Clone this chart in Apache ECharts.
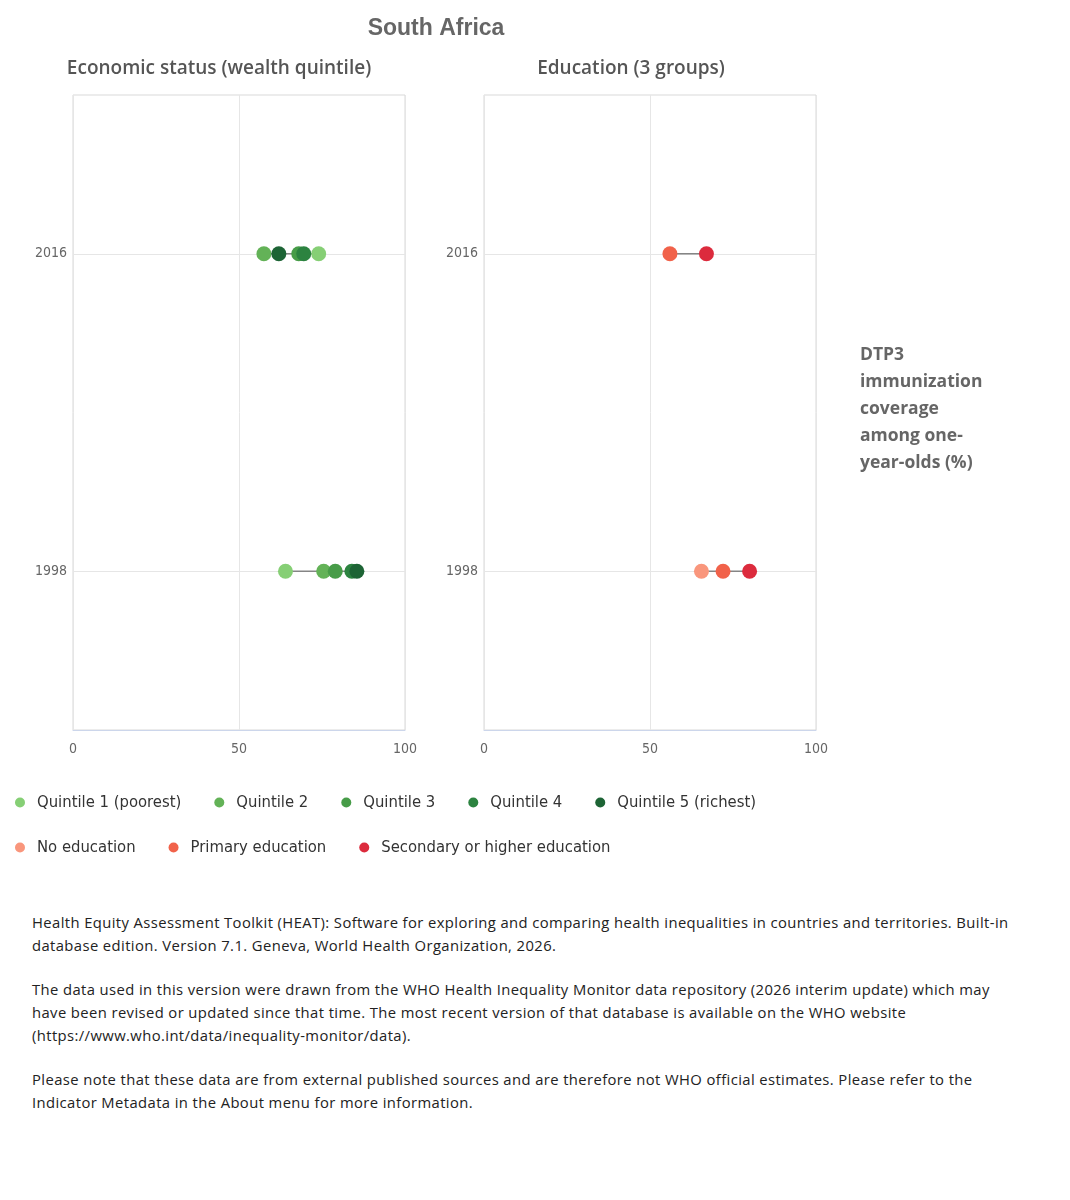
<!DOCTYPE html>
<html>
<head>
<meta charset="utf-8">
<script src="https://cdn.jsdelivr.net/npm/echarts@6/dist/echarts.min.js"></script>
<style>
  body { margin: 0; background: #fff; }
  #chart { width: 1070px; height: 880px; }
  #notes {
    position: absolute; left: 32px; top: 911px; width: 990px;
    font-family: "Open Sans", "Noto Sans", sans-serif; font-size: 14.8px;
    letter-spacing: 0.4px; line-height: 23px; color: #222;
  }
  #notes p { margin: 0 0 21px 0; }
</style>
</head>
<body>
<div id="chart"></div>
<div id="notes">
  <p>Health Equity Assessment Toolkit (HEAT): Software for exploring and comparing health inequalities in countries and territories. Built-in database edition. Version 7.1. Geneva, World Health Organization, 2026.</p>
  <p>The data used in this version were drawn from the WHO Health Inequality Monitor data repository (2026 interim update) which may have been revised or updated since that time. The most recent version of that database is available on the WHO website (https://www.who.int/data/inequality-monitor/data).</p>
  <p>Please note that these data are from external published sources and are therefore not WHO official estimates. Please refer to the Indicator Metadata in the About menu for more information.</p>
</div>
<script>
// years on the vertical axis (bottom to top)
var years = ['1998', '2016'];
var xTicks = [0, 50, 100];

// wealth quintiles, values per year [1998, 2016]
var quintileNames = ['Quintile 1 (poorest)', 'Quintile 2', 'Quintile 3', 'Quintile 4', 'Quintile 5 (richest)'];
var quintileColors = ['#86cf75', '#63b257', '#479c48', '#2c8340', '#1d6435'];
var quintile1 = [64, 74];
var quintile2 = [75.5, 57.5];
var quintile3 = [79, 68];
var quintile4 = [84, 69.5];
var quintile5 = [85.5, 62];

// education groups, values per year [1998, 2016]
var educationNames = ['No education', 'Primary education', 'Secondary or higher education'];
var educationColors = ['#f9967c', '#f1624a', '#dc2b3d'];
var noEducation = [65.5, null];
var primaryEducation = [72, 56];
var secondaryEducation = [80, 67];

var axisFont = '"Liberation Sans Narrow", "DejaVu Sans Condensed", "Open Sans", sans-serif';
var labelFont = '"Open Sans", "Noto Sans", sans-serif';

var quintileData = [quintile1, quintile2, quintile3, quintile4, quintile5];
var educationData = [noEducation, primaryEducation, secondaryEducation];

var myChart = echarts.init(document.getElementById('chart'));

function makeGrid(left) {
  return {
    left: left, top: 95, width: 332, height: 635,
    show: true, borderColor: '#d9d9d9', borderWidth: 1,
    containLabel: false, outerBoundsMode: 'none'
  };
}

function makeX(idx) {
  return {
    type: 'value', gridIndex: idx, min: 0, max: 100, interval: 50,
    axisLine: { show: true, lineStyle: { color: '#ccd6eb', width: 1 } },
    axisTick: { show: false },
    axisLabel: { color: '#666', fontSize: 14, fontFamily: axisFont, margin: 12,
      formatter: function (v) { return xTicks.indexOf(v) >= 0 ? String(v) : ''; } },
    splitLine: { show: true, lineStyle: { color: '#e6e6e6' } }
  };
}

function makeY(idx) {
  return {
    type: 'category', gridIndex: idx, data: years, boundaryGap: true,
    axisLine: { show: false }, axisTick: { show: false },
    splitLine: { show: false },
    axisLabel: { color: '#666', fontSize: 14, fontFamily: axisFont, margin: 6 }
  };
}

var series = [];

// connector segment (min to max) for each year, plus the horizontal year gridlines
function addConnectors(groups, idx) {
  years.forEach(function (yr, yi) {
    var vals = groups.map(function (g) { return g[yi]; }).filter(function (v) { return v != null; });
    var s = {
      type: 'line', xAxisIndex: idx, yAxisIndex: idx, silent: true, z: 2,
      symbol: 'none', lineStyle: { color: '#858585', width: 1.5 },
      data: [[Math.min.apply(null, vals), yr], [Math.max.apply(null, vals), yr]]
    };
    if (yi === 0) {
      s.markLine = {
        silent: true, symbol: 'none', z: 1, label: { show: false },
        lineStyle: { color: '#e6e6e6', type: 'solid', width: 1 },
        emphasis: { disabled: true },
        data: years.map(function (y, k) { return { yAxis: k }; })
      };
    }
    series.push(s);
  });
}

function addDots(groups, names, colors, idx) {
  groups.forEach(function (g, gi) {
    var pts = [];
    years.forEach(function (yr, yi) { if (g[yi] != null) pts.push([g[yi], yr]); });
    series.push({
      type: 'scatter', name: names[gi], xAxisIndex: idx, yAxisIndex: idx, z: 3,
      symbol: 'circle', symbolSize: 15,
      itemStyle: { color: colors[gi], opacity: 1 },
      data: pts
    });
  });
}

addConnectors(quintileData, 0);
addConnectors(educationData, 1);
addDots(quintileData, quintileNames, quintileColors, 0);
addDots(educationData, educationNames, educationColors, 1);

var legendText = { color: '#333', fontSize: 16.5, fontFamily: axisFont, padding: [0, 0, 0, 7] };

var option = {
  backgroundColor: '#fff',
  animation: false,
  title: [
    { text: 'South Africa', left: 431, top: 12, textAlign: 'center',
      textStyle: { fontFamily: '"Liberation Sans", Arial, sans-serif', fontSize: 23, fontWeight: 'bold', color: '#666' } },
    { text: 'Economic status (wealth quintile)', left: 214, top: 54, textAlign: 'center',
      textStyle: { fontFamily: labelFont, fontSize: 19, fontWeight: 600, color: '#555' } },
    { text: 'Education (3 groups)', left: 626, top: 54, textAlign: 'center',
      textStyle: { fontFamily: labelFont, fontSize: 19, fontWeight: 600, color: '#555' } },
    { text: 'DTP3\nimmunization\ncoverage\namong one-\nyear-olds (%)', left: 855, top: 337,
      textStyle: { fontFamily: labelFont, fontSize: 17.5, fontWeight: 'bold', color: '#666', lineHeight: 27 } }
  ],
  legend: [
    { data: quintileNames, left: 10, top: 789, icon: 'circle', itemWidth: 10, itemHeight: 10,
      itemGap: 33, textStyle: legendText, selectedMode: false },
    { data: educationNames, left: 10, top: 834, icon: 'circle', itemWidth: 10, itemHeight: 10,
      itemGap: 33, textStyle: legendText, selectedMode: false }
  ],
  tooltip: { show: false },
  grid: [makeGrid(73), makeGrid(484)],
  xAxis: [makeX(0), makeX(1)],
  yAxis: [makeY(0), makeY(1)],
  series: series
};

myChart.setOption(option);
</script>
</body>
</html>
